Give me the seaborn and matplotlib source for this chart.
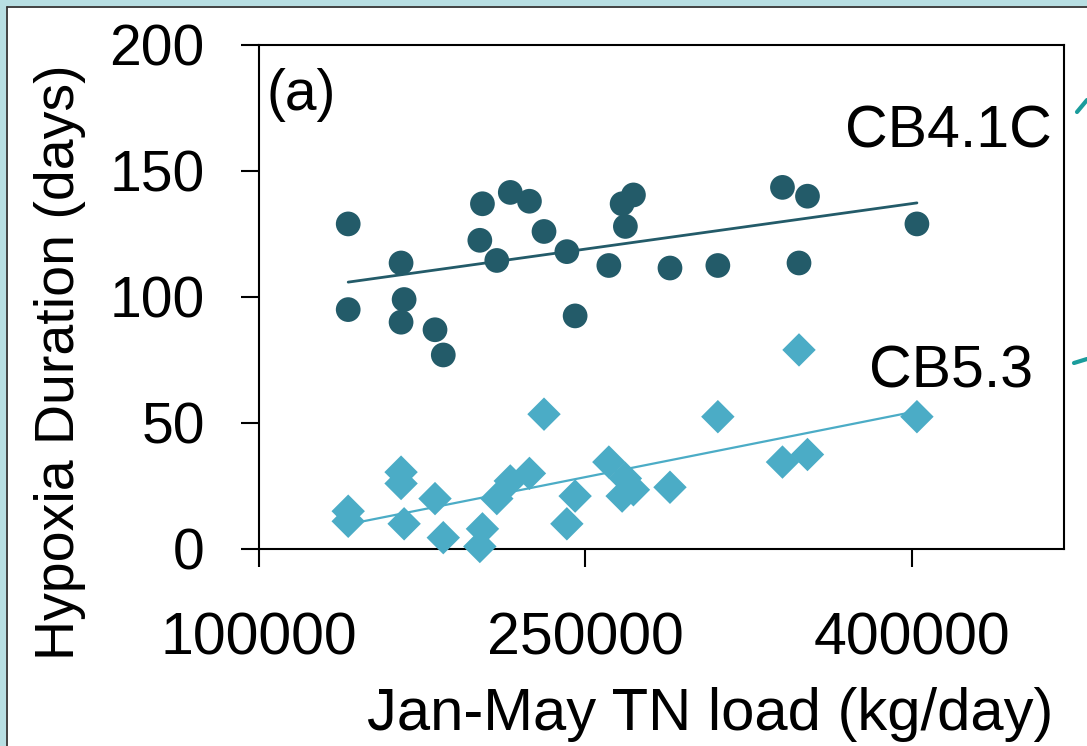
import numpy as np
import pandas as pd
import matplotlib
matplotlib.use("Agg")
import matplotlib.pyplot as plt
from matplotlib.lines import Line2D
from matplotlib.patches import Rectangle
import seaborn as sns

# ---- data (Jan-May TN load vs hypoxia duration) ----
tn_load = [141000, 141000, 165300, 166700, 165300, 180900, 184700, 202700, 201500,
           215500, 224300, 209300, 231000, 241500, 245300, 260800, 266900, 272100,
           268400, 288900, 340600, 352100, 310900, 348200, 402400]
cb41c_days = [129, 95, 113.5, 99, 90, 87, 77, 137, 122.5, 141.5, 138, 114.5, 126,
              118, 92.5, 112.5, 137, 140.5, 128, 111.5, 143.5, 140, 112.5, 113.5, 129]
cb53_days = [15, 11, 30.5, 10, 26, 20, 4.5, 8, 1, 27, 30, 20, 53.5, 10, 21, 34.5,
             21, 23.5, 28, 24.5, 34.5, 37.5, 52.5, 79, 52.5]

stations = ["CB4.1C", "CB5.3"]
x_ticks = [100000, 250000, 400000]
y_ticks = [0, 50, 100, 150, 200]

df = pd.DataFrame({
    "load": tn_load * 2,
    "days": cb41c_days + cb53_days,
    "station": [stations[0]] * len(tn_load) + [stations[1]] * len(tn_load),
})

colors = {"CB4.1C": "#235B69", "CB5.3": "#4BACC6"}
markers = {"CB4.1C": "o", "CB5.3": "D"}
msize = {"CB4.1C": 317, "CB5.3": 290}
lwidth = {"CB4.1C": 2.0, "CB5.3": 1.6}

sns.set_theme(style="ticks")
plt.rcParams["font.family"] = ["Liberation Sans", "DejaVu Sans"]
plt.rcParams["text.color"] = "black"
plt.rcParams["xtick.color"] = "black"
plt.rcParams["ytick.color"] = "black"

W, H = 1087, 746
fig = plt.figure(figsize=(W / 100, H / 100), dpi=100)
fig.patch.set_facecolor("white")


def fx(px):
    return px / W


def fy(py):
    return (H - py) / H


# axes box in pixels: left 259, right 1064, top 45, bottom 549
ax = fig.add_axes([fx(259), fy(549), fx(1064) - fx(259), fy(45) - fy(549)])

for st in stations:
    sub = df[df["station"] == st]
    sns.regplot(data=sub, x="load", y="days", ax=ax, scatter=False, ci=None,
                color=colors[st], line_kws={"lw": lwidth[st], "zorder": 2})
    sns.scatterplot(data=sub, x="load", y="days", ax=ax, color=colors[st],
                    marker=markers[st], s=msize[st], edgecolor="none",
                    linewidth=0, clip_on=False, zorder=3, legend=False)

ax.set_xlim(100000, 470000)
ax.set_ylim(0, 200)
ax.set_xticks(x_ticks)
ax.set_yticks(y_ticks)
ax.set_xticklabels([str(v) for v in x_ticks])
ax.set_yticklabels([str(v) for v in y_ticks])
ax.set_xlabel("")
ax.set_ylabel("")
ax.tick_params(axis="both", direction="out", length=13, width=1.5, colors="black",
               labelcolor="black")
ax.tick_params(axis="x", pad=32, labelsize=42.5)
ax.tick_params(axis="y", pad=26, labelsize=41)
for sp in ax.spines.values():
    sp.set_visible(True)
    sp.set_color("black")
    sp.set_linewidth(1.5)

# labels placed where the reference has them
fig.text(fx(60), fy(362), "Hypoxia Duration (days)", rotation=90, fontsize=40,
         ha="center", va="center", color="black")
fig.text(fx(710), fy(730), "Jan-May TN load (kg/day)", fontsize=43,
         ha="center", va="baseline", color="black")
fig.text(fx(267), fy(110), "(a)", fontsize=41, ha="left", va="baseline", color="black")
fig.text(fx(1052), fy(148), "CB4.1C", fontsize=42.5, ha="right", va="baseline",
         color="black")
fig.text(fx(1033), fy(387), "CB5.3", fontsize=42.5, ha="right", va="baseline",
         color="black")

# slide frame: light cyan border top/left with a dark rule
fig.patches.append(Rectangle((0, fy(6)), 1, 1 - fy(6), transform=fig.transFigure,
                             facecolor="#B8DFE3", edgecolor="none", zorder=0))
fig.patches.append(Rectangle((0, 0), fx(6), 1, transform=fig.transFigure,
                             facecolor="#B8DFE3", edgecolor="none", zorder=0))
fig.lines.append(Line2D([fx(7), fx(7)], [0, fy(7)], transform=fig.transFigure,
                        color="#333333", lw=1.3))
fig.lines.append(Line2D([fx(7), 1], [fy(7), fy(7)], transform=fig.transFigure,
                        color="#333333", lw=1.3))

# bits of callout lines cut off at the right edge
fig.lines.append(Line2D([fx(1077), fx(1087)], [fy(112), fy(100)],
                        transform=fig.transFigure, color="#1A9C9C", lw=3))
fig.lines.append(Line2D([fx(1074), fx(1087)], [fy(363), fy(359)],
                        transform=fig.transFigure, color="#1A9C9C", lw=3))

fig.savefig("out.png", dpi=100)
plt.close(fig)
